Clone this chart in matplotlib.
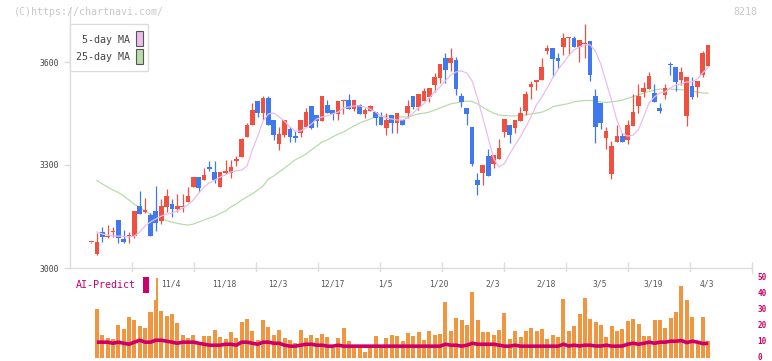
import matplotlib
matplotlib.use("Agg")
import matplotlib.pyplot as plt
import matplotlib.transforms as mtransforms
import numpy as np
from matplotlib.patches import Rectangle

# ---------------------------------------------------------------- data

opens = [3075, 3041, 3105, 3089, 3104, 3140, 3084, 3094, 3093, 3181,
         3164, 3154, 3166, 3138, 3179, 3186, 3173, 3178, 3192, 3235,
         3264, 3256, 3293, 3280, 3237, 3278, 3278, 3313, 3324, 3381,
         3417, 3486, 3452, 3495, 3431, 3361, 3387, 3404, 3384, 3394,
         3412, 3472, 3446, 3429, 3475, 3460, 3449, 3485, 3489, 3463,
         3475, 3449, 3457, 3454, 3441, 3409, 3446, 3423, 3431, 3451,
         3501, 3470, 3487, 3499, 3534, 3553, 3612, 3598, 3606, 3501,
         3466, 3412, 3256, 3276, 3326, 3303, 3318, 3396, 3417, 3408,
         3429, 3458, 3528, 3543, 3548, 3633, 3641, 3612, 3645, 3669,
         3670, 3645, 3653, 3660, 3501, 3480, 3379, 3274, 3367, 3384,
         3373, 3414, 3472, 3513, 3521, 3509, 3466, 3505, 3594, 3586,
         3548, 3443, 3530, 3528, 3563, 3588]
highs = [3077, 3101, 3119, 3124, 3119, 3140, 3111, 3105, 3166, 3225,
         3204, 3161, 3239, 3201, 3230, 3202, 3216, 3216, 3235, 3264,
         3264, 3291, 3312, 3311, 3280, 3315, 3315, 3326, 3379, 3421,
         3481, 3486, 3502, 3502, 3431, 3412, 3431, 3410, 3398, 3431,
         3466, 3472, 3446, 3501, 3489, 3460, 3486, 3488, 3507, 3489,
         3478, 3466, 3475, 3454, 3454, 3451, 3446, 3451, 3431, 3489,
         3501, 3507, 3524, 3524, 3567, 3594, 3627, 3641, 3615, 3511,
         3466, 3412, 3276, 3301, 3348, 3328, 3377, 3435, 3417, 3431,
         3470, 3516, 3544, 3546, 3612, 3650, 3641, 3625, 3684, 3672,
         3676, 3664, 3711, 3660, 3521, 3480, 3410, 3369, 3416, 3392,
         3431, 3507, 3536, 3542, 3571, 3536, 3480, 3536, 3600, 3586,
         3586, 3557, 3557, 3546, 3631, 3650]
lows = [3072, 3039, 3077, 3088, 3089, 3074, 3074, 3074, 3087, 3157,
        3159, 3094, 3109, 3128, 3164, 3149, 3164, 3164, 3192, 3235,
        3221, 3256, 3283, 3248, 3235, 3274, 3262, 3297, 3323, 3381,
        3417, 3439, 3431, 3416, 3373, 3344, 3381, 3367, 3367, 3381,
        3412, 3406, 3412, 3429, 3452, 3431, 3431, 3449, 3463, 3457,
        3449, 3437, 3457, 3417, 3417, 3387, 3394, 3394, 3417, 3438,
        3464, 3460, 3487, 3483, 3513, 3540, 3540, 3575, 3503, 3468,
        3416, 3297, 3214, 3243, 3268, 3291, 3318, 3382, 3365, 3394,
        3429, 3445, 3493, 3518, 3548, 3623, 3557, 3583, 3620, 3620,
        3645, 3600, 3612, 3544, 3363, 3404, 3346, 3258, 3367, 3367,
        3361, 3414, 3452, 3499, 3521, 3484, 3452, 3493, 3563, 3515,
        3534, 3414, 3493, 3499, 3557, 3588]
closes = [3076, 3075, 3089, 3091, 3106, 3087, 3076, 3096, 3166, 3157,
          3166, 3094, 3132, 3181, 3210, 3173, 3181, 3180, 3210, 3264,
          3233, 3270, 3289, 3256, 3280, 3280, 3294, 3315, 3375, 3417,
          3460, 3451, 3495, 3416, 3388, 3390, 3431, 3382, 3379, 3431,
          3454, 3408, 3429, 3501, 3452, 3449, 3486, 3487, 3463, 3489,
          3449, 3460, 3472, 3437, 3417, 3431, 3423, 3451, 3417, 3472,
          3470, 3507, 3515, 3524, 3557, 3594, 3577, 3612, 3522, 3484,
          3449, 3303, 3243, 3301, 3268, 3328, 3350, 3435, 3388, 3431,
          3451, 3507, 3536, 3545, 3586, 3641, 3610, 3604, 3670, 3671,
          3645, 3664, 3655, 3563, 3410, 3423, 3398, 3355, 3384, 3367,
          3416, 3454, 3501, 3524, 3559, 3484, 3458, 3524, 3590, 3542,
          3571, 3557, 3499, 3546, 3627, 3650]

ma5 = [None, 3105, 3099, 3096, 3093, 3093, 3092, 3090, 3093, 3105,
       3122, 3134, 3143, 3151, 3157, 3160, 3166, 3175, 3184, 3198,
       3218, 3236, 3248, 3256, 3265, 3271, 3280, 3283, 3285, 3297,
       3344, 3384, 3428, 3449, 3451, 3440, 3428, 3411, 3399, 3399,
       3408, 3419, 3434, 3440, 3443, 3449, 3454, 3466, 3469, 3472,
       3472, 3469, 3463, 3454, 3443, 3437, 3434, 3431, 3431, 3437,
       3451, 3466, 3478, 3495, 3513, 3527, 3545, 3562, 3571, 3574,
       3568, 3545, 3495, 3437, 3379, 3320, 3294, 3303, 3332, 3358,
       3382, 3411, 3440, 3475, 3498, 3524, 3553, 3577, 3597, 3618,
       3635, 3644, 3650, 3650, 3632, 3594, 3542, 3489, 3431, 3393,
       3384, 3387, 3402, 3440, 3481, 3498, 3510, 3513, 3524, 3533,
       3536, 3542, 3542, 3550, 3568, 3583]
ma25 = [None, 3255, 3245, 3236, 3227, 3220, 3210, 3198, 3186, 3176,
        3166, 3157, 3150, 3144, 3138, 3134, 3130, 3127, 3125, 3128,
        3134, 3140, 3146, 3151, 3159, 3166, 3178, 3186, 3198, 3207,
        3216, 3227, 3239, 3259, 3268, 3280, 3291, 3303, 3315, 3323,
        3332, 3344, 3355, 3367, 3373, 3382, 3390, 3396, 3405, 3414,
        3422, 3428, 3434, 3440, 3441, 3443, 3443, 3441, 3440, 3440,
        3444, 3449, 3451, 3454, 3460, 3466, 3472, 3478, 3481, 3484,
        3486, 3485, 3478, 3468, 3459, 3451, 3446, 3444, 3443, 3443,
        3444, 3446, 3449, 3451, 3454, 3460, 3469, 3473, 3476, 3479,
        3484, 3486, 3488, 3488, 3486, 3484, 3482, 3484, 3486, 3489,
        3494, 3499, 3504, 3510, 3514, 3518, 3521, 3521, 3521, 3520,
        3519, 3518, 3516, 3512, 3510, 3509]

ai_bars = [None, 30.8, 14.5, 12.6, 11.9, 20.7, 18.2, 25.8, 23.9, 20.1,
           18.9, 28.9, 36.0, 29.6, 26.4, 27.7, 22.0, 14.5, 12.6, 14.5,
           9.4, 13.8, 13.8, 17.6, 13.2, 11.9, 16.4, 12.6, 22.6, 24.5,
           17.0, 11.3, 23.9, 19.5, 14.5, 17.6, 12.6, 11.3, 9.4, 17.6,
           12.6, 14.5, 12.6, 15.1, 13.2, 6.3, 12.6, 18.9, 10.7, 6.9,
           6.9, 3.8, 6.9, 13.8, 6.9, 12.6, 14.5, 13.8, 10.7, 15.7,
           13.8, 16.4, 11.3, 17.0, 14.5, 15.1, 35.2, 17.0, 25.2, 23.9,
           20.7, 41.5, 23.9, 16.4, 16.4, 14.5, 17.6, 28.3, 11.9, 17.0,
           13.2, 17.0, 18.9, 17.0, 18.2, 11.9, 14.5, 13.2, 37.1, 17.0,
           20.1, 27.7, 37.7, 24.5, 22.6, 20.7, 13.2, 20.1, 17.0, 18.2,
           23.3, 24.5, 21.4, 13.8, 13.8, 23.9, 23.9, 18.9, 25.2, 28.9,
           44.7, 36.5, 25.8, 10.7, 25.8, 10.7]
spike_idx, spike_top = 12, 50.0
ai_line = [None, 9.9, 9.9, 9.9, 9.2, 9.9, 9.2, 8.6, 9.9, 11.1,
           9.9, 9.9, 11.1, 11.1, 10.5, 9.9, 9.2, 9.9, 9.9, 9.9,
           9.2, 8.6, 8.0, 8.0, 8.0, 8.6, 8.6, 8.0, 9.9, 9.9,
           9.2, 8.6, 9.9, 9.9, 9.2, 9.2, 8.0, 7.4, 7.4, 8.0,
           8.6, 8.6, 8.0, 8.0, 7.4, 7.4, 8.0, 7.4, 7.4, 7.4,
           7.4, 7.4, 7.4, 7.4, 7.4, 7.4, 7.4, 7.4, 7.4, 7.4,
           7.4, 7.4, 7.4, 7.4, 7.4, 7.4, 8.6, 8.0, 8.0, 7.4,
           8.0, 9.2, 8.6, 8.6, 8.6, 8.6, 8.0, 7.4, 7.4, 8.0,
           7.4, 7.4, 7.4, 7.4, 7.4, 7.4, 7.4, 7.4, 8.6, 7.5,
           8.0, 7.5, 8.0, 8.0, 7.5, 7.5, 8.0, 7.4, 7.4, 7.5,
           8.6, 9.2, 8.6, 9.2, 9.9, 9.2, 9.9, 9.9, 10.5, 10.5,
           10.9, 9.6, 10.5, 9.9, 9.0, 9.2]

date_labels = ["11/4", "11/18", "12/3", "12/17", "1/5", "1/20",
               "2/3", "2/18", "3/5", "3/19", "4/3"]
date_idx = [15, 25, 35, 45, 55, 65, 75, 85, 95, 105, 115]

# ---------------------------------------------------------------- layout

W, H = 772, 361
X0, PITCH = 91.5, 5.363          # pixel x of candle 0, pixels per candle
PX_PER_YEN = 103 / 300

UP, DOWN = "#f05040", "#4078f0"
PINK, GREEN = "#ecbcec", "#b8dcaa"
ORANGE, MAGENTA = "#f09640", "#cc0066"
GRID = "#dddddd"
MONO = "DejaVu Sans Mono"


def px2i(px):
    return (px - X0) / PITCH


def fx(px):
    return px / W


def fy(py):
    return 1 - py / H


fig = plt.figure(figsize=(W / 100, H / 100), dpi=100)

# ---------- price panel
ax = fig.add_axes([fx(70), fy(268), (752 - 70) / W, (268 - 8) / H])
ax.set_xlim(px2i(70), px2i(752))
ax.set_ylim(3000, 3000 + (268 - 8) / PX_PER_YEN)

n = len(closes)
xs = np.arange(n)
for i in range(n):
    o, h, l, c = opens[i], highs[i], lows[i], closes[i]
    col = UP if c >= o else DOWN
    ax.vlines(i, l, h, color=col, lw=0.9, zorder=2)
    body = max(abs(c - o), 3.5)
    ax.bar(i, body, bottom=min(o, c), width=0.87, color=col,
           linewidth=0, zorder=3)

ma5_arr = np.array([np.nan if v is None else v for v in ma5], dtype=float)
ma25_arr = np.array([np.nan if v is None else v for v in ma25], dtype=float)
ax.plot(xs, ma25_arr, color=GREEN, lw=0.9, zorder=1)
ax.plot(xs, ma5_arr, color=PINK, lw=0.9, zorder=4)

for s in ["top", "right"]:
    ax.spines[s].set_visible(False)
for s in ["left", "bottom"]:
    ax.spines[s].set_color(GRID)
    ax.spines[s].set_linewidth(1.0)

ax.set_yticks([3000, 3300, 3600])
ax.set_yticklabels(["3000", "3300", "3600"], fontsize=5.8,
                   family=MONO, color="#444444")
ax.tick_params(axis="y", length=4, width=1, color=GRID, pad=4)
ax.set_xticks([px2i(132.3 + 62 * k) for k in range(11)])
ax.set_xticklabels([])
ax.tick_params(axis="x", direction="inout", length=8, width=1, color=GRID)

# ---------- AI-Predict panel
ax2 = fig.add_axes([fx(70), fy(358), (752 - 70) / W, (358 - 272) / H])
ax2.set_xlim(px2i(70), px2i(752))
ax2.set_ylim(0, (358 - 272) / 1.6)
bars = np.array([np.nan if v is None else v for v in ai_bars], dtype=float)
ax2.bar(xs, bars, width=0.75, color=ORANGE, linewidth=0)
ax2.bar(spike_idx + 0.15, spike_top, width=0.35, color=ORANGE, linewidth=0)
line = np.array([np.nan if v is None else v for v in ai_line], dtype=float)
ax2.plot(xs, line, color=MAGENTA, lw=2.6, solid_capstyle="butt")

for s in ax2.spines.values():
    s.set_visible(False)
ax2.set_xticks([])
ax2.yaxis.tick_right()
ax2.set_yticks([0, 10, 20, 30, 40, 50])
ax2.set_yticklabels(["0", "10", "20", "30", "40", "50"], fontsize=5.5,
                    family=MONO, color=MAGENTA, fontweight="bold")
ax2.tick_params(axis="y", length=0, pad=4)
lift = mtransforms.ScaledTranslation(0, 2 / 100, fig.dpi_scale_trans)
for lab in ax2.get_yticklabels():
    lab.set_transform(lab.get_transform() + lift)

for lab, i in zip(date_labels, date_idx):
    ax2.text(i - 0.2, (358 - 284) / 1.6, lab, ha="center", va="center",
             fontsize=5.8, family=MONO, color="#555555")

# ---------- texts / legend
fig.text(fx(14), fy(12), "(C)https://chartnavi.com/", fontsize=7.2,
         family=MONO, color="#c8c8c8", va="center", ha="left")
fig.text(fx(757), fy(12), "8218", fontsize=7.2, family=MONO,
         color="#c8c8c8", va="center", ha="right")

fig.patches.append(Rectangle((fx(70.3), fy(71.3)), (148.3 - 70.3) / W,
                             (71.3 - 24) / H, transform=fig.transFigure,
                             facecolor="white", edgecolor=GRID, lw=1.0,
                             zorder=5))
fig.text(fx(129.5), fy(40), "5-day MA", fontsize=7.2, family=MONO,
         color="#444444", ha="right", va="center", zorder=6)
fig.text(fx(129.5), fy(57.3), "25-day MA", fontsize=7.2, family=MONO,
         color="#444444", ha="right", va="center", zorder=6)
for top, col in [(31.3, PINK), (48.7, GREEN)]:
    fig.patches.append(Rectangle((fx(136), fy(top + 15)), 6.5 / W, 15 / H,
                                 transform=fig.transFigure, facecolor=col,
                                 edgecolor="#555555", lw=0.8, zorder=6))

fig.text(fx(76), fy(285), "AI-Predict", fontsize=7.2, family=MONO,
         color=MAGENTA, ha="left", va="center")
fig.patches.append(Rectangle((fx(143), fy(293)), 5.5 / W, 16 / H,
                             transform=fig.transFigure, facecolor=MAGENTA,
                             edgecolor="none"))

fig.savefig("out.png", dpi=100)
